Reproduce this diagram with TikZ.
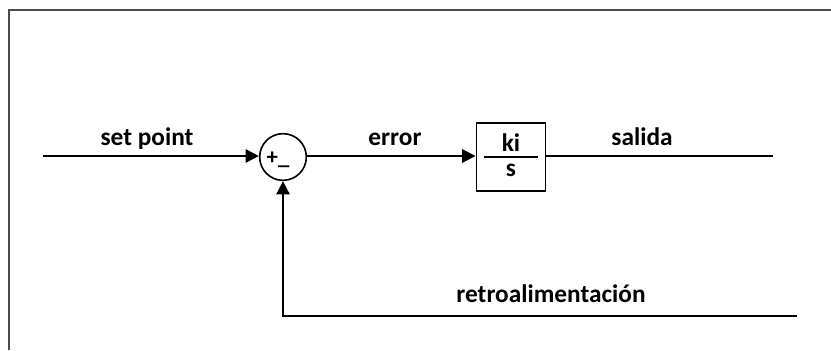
\documentclass[tikz,border=0pt]{standalone}
\usepackage{fontspec}
\setmainfont{Carlito}
\usetikzlibrary{arrows.meta}

\begin{document}
\begin{tikzpicture}[x=0.75pt, y=-0.75pt,
    every node/.style={font=\bfseries\fontsize{19}{23}\selectfont},
    wire/.style={line width=1.4pt},
    feed/.style={wire, -{Triangle[length=10pt, width=10pt]}}]
  \useasboundingbox (0,0) rectangle (831,350);
  \draw [black!70, line width=1pt] (9,350) -- (9,10) -- (831,10);

  \coordinate (in) at (43,156);
  \node (sum) [circle, draw, line width=1.2pt, minimum size=35pt, inner sep=0pt] at (283,157) {};
  \node (sgn) [anchor=base, font=\bfseries\fontsize{17}{20}\selectfont] at (278,164) {+\_};
  \node (gain) [draw, line width=1.2pt, minimum width=52pt, minimum height=51pt, inner sep=0pt] at (511,157) {};
  \node (num) [inner sep=0.5pt] at (511,142.5) {ki};
  \node (den) [inner sep=0.5pt] at (511,170) {s};
  \draw [wire] ([xshift=6pt]gain.west) -- ([xshift=-6pt]gain.east);
  \coordinate (out) at (773,156);
  \coordinate (fb) at (797,316);

  \draw [feed] (in) -- (sum.west |- in);
  \draw [feed] (sum.east |- in) -- (gain.west |- in);
  \draw [wire] (gain.east |- in) -- (out);
  \draw [feed] (fb) -- (sum.south |- fb) -- (sum.south);

  \node [anchor=base] at (147,145) {set point};
  \node [anchor=base] at (395,145) {error};
  \node [anchor=base] at (642,145) {salida};
  \node [anchor=base] at (551,302) {retroalimentación};
\end{tikzpicture}
\end{document}
